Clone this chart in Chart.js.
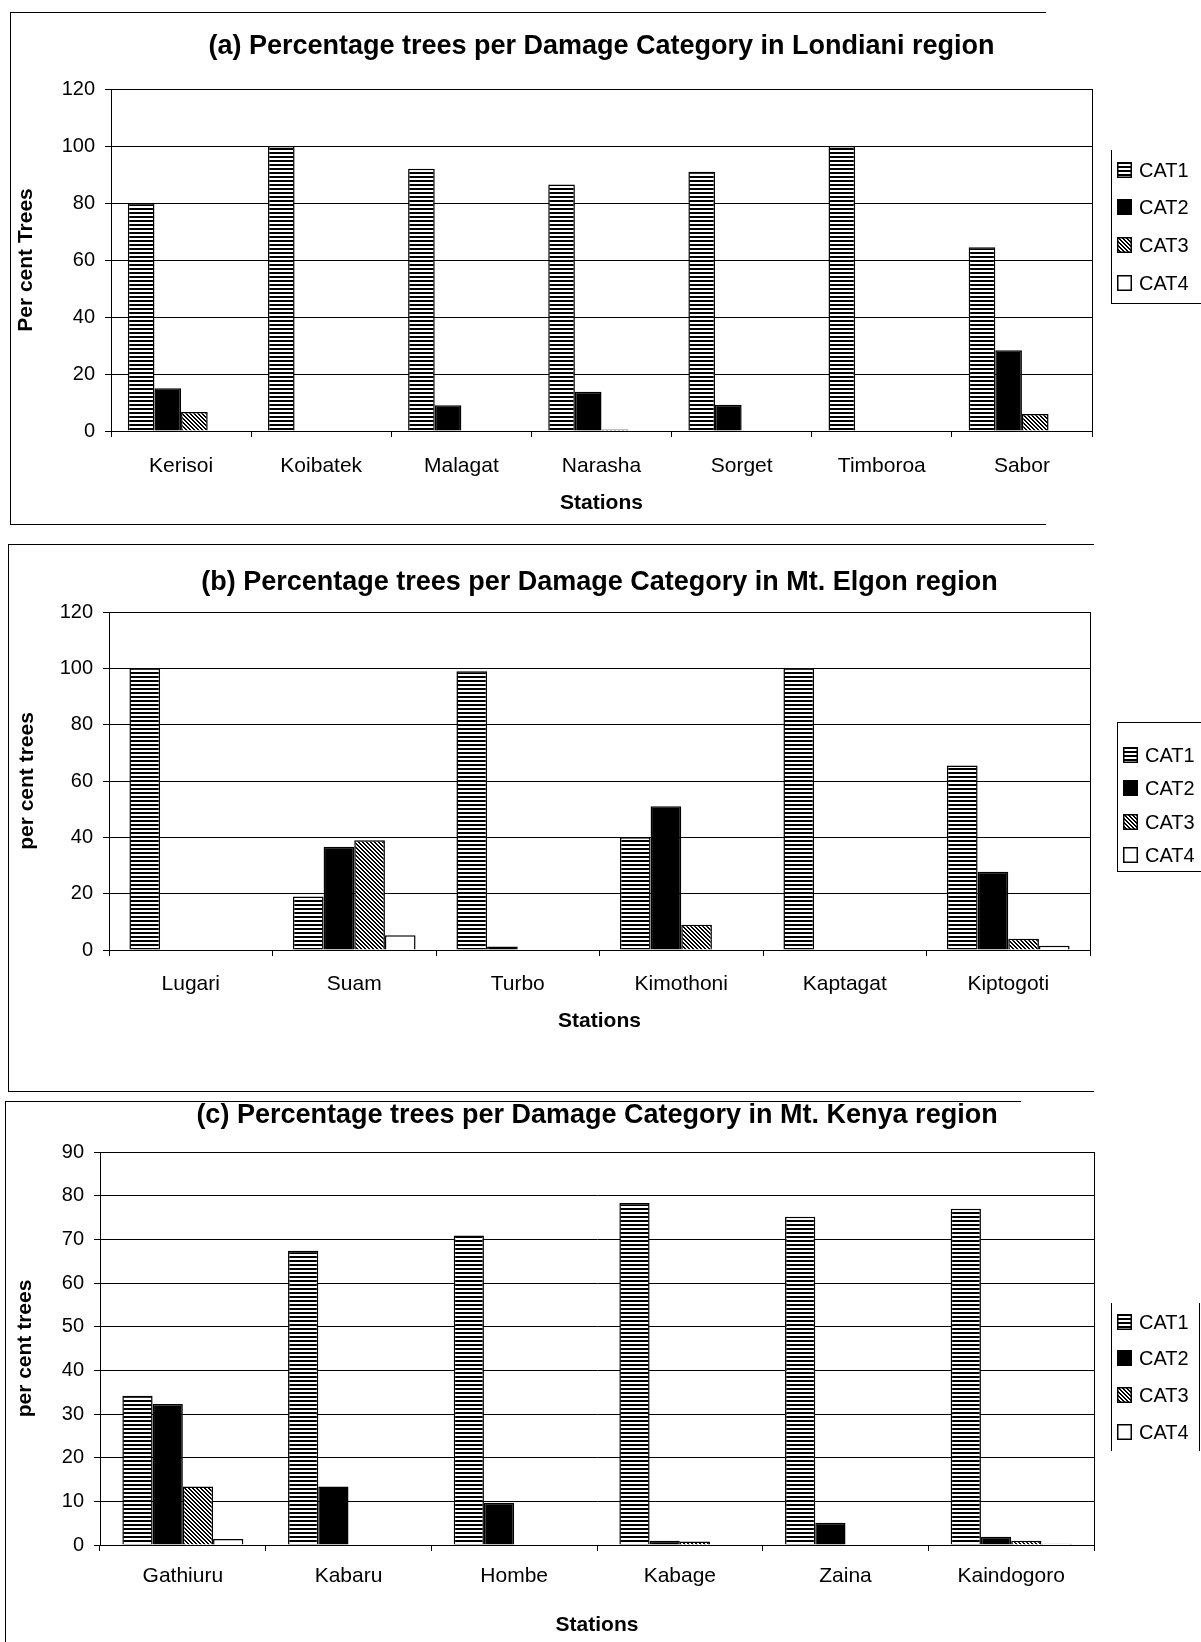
<!DOCTYPE html>
<html lang="en">
<head>
<meta charset="UTF-8">
<title>Percentage trees per Damage Category</title>
<style>
  body { margin: 0; background: #fff; font-family: 'Liberation Sans', Arial, sans-serif; }
  #page { position: relative; width: 1201px; height: 1642px; overflow: hidden; background: #fff; }
  .frame { position: absolute; border: 0 solid #000; box-sizing: border-box; }
  canvas.chart { position: absolute; left: 0; }
  .legend { position: absolute; border: 0 solid #000; box-sizing: border-box; }
  .legend .row { position: absolute; left: 5px; display: flex; align-items: center; font-size: 20px; line-height: 20px; color: #000; }
  .legend .row canvas { margin-right: 7px; }
</style>
<script src="https://cdn.jsdelivr.net/npm/chart.js"></script>
</head>
<body>
<div id="page">
  <div class="frame" style="left:10px; top:12px; width:1036px; height:513px; border-width:1px 0 1px 1px;"></div>
  <div class="frame" style="left:8px; top:544px; width:1086px; height:548px; border-width:1px 0 1px 1px;"></div>
  <div class="frame" style="left:5px; top:1101px; width:1016px; height:545px; border-width:1px 0 0 1px;"></div>

  <canvas class="chart" id="chartA"></canvas>
  <canvas class="chart" id="chartB"></canvas>
  <canvas class="chart" id="chartC"></canvas>

  <div class="legend" id="legendA" style="left:1111px; top:150px; width:90px; height:154px; border-width:0 0 1px 1px;"></div>
  <div class="legend" id="legendB" style="left:1117px; top:722px; width:84px; height:150px; border-width:1px 0 1px 1px;"></div>
  <div class="legend" id="legendC" style="left:1111px; top:1303px; width:89px; height:148px; border-width:0 1px 0 1px;"></div>
</div>

<script>
  const seriesNames = ['CAT1', 'CAT2', 'CAT3', 'CAT4'];

  // (a) Londiani
  const stationsA = ['Kerisoi', 'Koibatek', 'Malagat', 'Narasha', 'Sorget', 'Timboroa', 'Sabor'];
  const cat1A = [80, 100, 92, 86.5, 91, 100, 64.5];
  const cat2A = [15, 0, 9, 13.8, 9.2, 0, 28.3];
  const cat3A = [6.7, 0, 0, 0.5, 0, 0, 6];
  const cat4A = [0, 0, 0, 0, 0, 0, 0];
  const yTicksA = [0, 20, 40, 60, 80, 100, 120];

  // (b) Mt. Elgon
  const stationsB = ['Lugari', 'Suam', 'Turbo', 'Kimothoni', 'Kaptagat', 'Kiptogoti'];
  const cat1B = [100, 19, 99, 40, 100, 65.5];
  const cat2B = [0, 36.7, 1.2, 51, 0, 27.8];
  const cat3B = [0, 39, 0, 9, 0, 4];
  const cat4B = [0, 5.2, 0, 0, 0, 1.5];
  const yTicksB = [0, 20, 40, 60, 80, 100, 120];

  // (c) Mt. Kenya
  const stationsC = ['Gathiuru', 'Kabaru', 'Hombe', 'Kabage', 'Zaina', 'Kaindogoro'];
  const cat1C = [34.2, 67.4, 70.9, 78.3, 75.2, 77];
  const cat2C = [32.3, 13.4, 9.7, 1, 5.1, 1.9];
  const cat3C = [13.4, 0, 0, 0.8, 0, 1];
  const cat4C = [1.4, 0, 0, 0, 0, 0.3];
  const yTicksC = [0, 10, 20, 30, 40, 50, 60, 70, 80, 90];

  const FONT = "'Liberation Sans', Arial, sans-serif";

  // 4x4 tiles for the black & white fills
  function makeTile(kind) {
    const c = document.createElement('canvas');
    c.width = 4; c.height = 4;
    const g = c.getContext('2d');
    g.fillStyle = '#fff';
    g.fillRect(0, 0, 4, 4);
    g.fillStyle = '#000';
    if (kind === 'stripes') {
      g.fillRect(0, 0, 4, 2);
    } else if (kind === 'solid') {
      g.fillRect(0, 0, 4, 4);
    } else if (kind === 'hatch') {
      for (let i = 0; i < 4; i++) {
        g.fillRect(i, i, 1, 1);
        g.fillRect((i + 1) % 4, i, 1, 1);
      }
    }
    return c;
  }
  const tiles = [makeTile('stripes'), makeTile('solid'), makeTile('hatch'), makeTile('white')];

  const plotBorder = {
    id: 'plotBorder',
    afterDraw(chart) {
      const { ctx, chartArea: a } = chart;
      ctx.save();
      ctx.strokeStyle = '#000';
      ctx.lineWidth = 1;
      ctx.strokeRect(Math.round(a.left) + 0.5, Math.round(a.top) + 0.5,
                     Math.round(a.right - a.left), Math.round(a.bottom - a.top));
      ctx.restore();
    }
  };

  function makeChart(id, cfg) {
    const cv = document.getElementById(id);
    cv.width = 1201;
    cv.height = cfg.h;
    cv.style.top = cfg.top + 'px';

    const titleSize = 27, titleLH = titleSize * 1.2;
    const axisSize = 21, axisLH = axisSize * 1.2;
    const tickSize = 20, labelSize = 21, tl = 6;

    return new Chart(cv, {
      type: 'bar',
      data: {
        labels: cfg.labels,
        datasets: seriesNames.map((name, i) => ({
          label: name,
          data: cfg.values[i],
          backgroundColor: ctx => ctx.chart.ctx.createPattern(tiles[i], 'repeat'),
          borderColor: '#000',
          borderWidth: 1.5,
          categoryPercentage: cfg.group,
          barPercentage: 1
        }))
      },
      options: {
        responsive: false,
        animation: false,
        layout: { padding: { top: cfg.titleY - titleLH / 2, right: 1201 - cfg.plotRight, bottom: 0, left: 0 } },
        plugins: {
          legend: { display: false },
          tooltip: { enabled: false },
          title: {
            display: true,
            fullSize: false,
            text: cfg.title,
            color: '#000',
            font: { family: FONT, size: titleSize, weight: 'bold' },
            padding: { top: 0, bottom: cfg.plotTop - cfg.titleY - titleLH / 2 }
          }
        },
        scales: {
          x: {
            grid: { drawOnChartArea: false, color: '#000', tickLength: tl, offset: true },
            border: { color: '#000' },
            ticks: {
              color: '#000',
              font: { family: FONT, size: labelSize },
              padding: cfg.labelY - cfg.plotBottom - tl - labelSize * 0.6,
              maxRotation: 0,
              autoSkip: false
            },
            title: {
              display: true,
              text: 'Stations',
              color: '#000',
              font: { family: FONT, size: axisSize, weight: 'bold' },
              padding: { top: 0, bottom: cfg.h - cfg.stationsY - axisLH / 2 }
            },
            afterFit: s => { s.height = cfg.h - cfg.plotBottom; }
          },
          y: {
            min: 0,
            max: cfg.yTicks[cfg.yTicks.length - 1],
            afterBuildTicks: s => { s.ticks = cfg.yTicks.map(v => ({ value: v })); },
            grid: { color: '#000', tickLength: tl },
            border: { color: '#000' },
            ticks: { color: '#000', font: { family: FONT, size: tickSize }, padding: 10 },
            title: {
              display: true,
              text: cfg.yTitle,
              color: '#000',
              font: { family: FONT, size: axisSize, weight: 'bold' },
              padding: { top: cfg.yTitleX - axisLH / 2, bottom: 0 }
            },
            afterFit: s => { s.width = cfg.plotLeft; }
          }
        }
      },
      plugins: [plotBorder]
    });
  }

  function makeLegend(id, rowsY) {
    const box = document.getElementById(id);
    seriesNames.forEach((name, i) => {
      const row = document.createElement('div');
      row.className = 'row';
      row.style.top = (rowsY[i] - 10) + 'px';
      const sw = document.createElement('canvas');
      sw.width = 15; sw.height = 16;
      const g = sw.getContext('2d');
      g.fillStyle = g.createPattern(tiles[i], 'repeat');
      g.fillRect(0, 0, 15, 16);
      g.strokeStyle = '#000';
      g.lineWidth = 1.5;
      g.strokeRect(0.75, 0.75, 13.5, 14.5);
      row.appendChild(sw);
      row.appendChild(document.createTextNode(name));
      box.appendChild(row);
    });
  }

  makeChart('chartA', {
    top: 0, h: 540,
    title: '(a) Percentage trees per Damage Category in Londiani region',
    yTitle: 'Per cent Trees',
    labels: stationsA,
    values: [cat1A, cat2A, cat3A, cat4A],
    yTicks: yTicksA,
    group: 0.76,
    plotLeft: 111, plotRight: 1092, plotTop: 89, plotBottom: 431,
    titleY: 47, labelY: 466, stationsY: 503, yTitleX: 26
  });

  makeChart('chartB', {
    top: 540, h: 556,
    title: '(b) Percentage trees per Damage Category in Mt. Elgon region',
    yTitle: 'per cent trees',
    labels: stationsB,
    values: [cat1B, cat2B, cat3B, cat4B],
    yTicks: yTicksB,
    group: 0.75,
    plotLeft: 109, plotRight: 1090, plotTop: 72, plotBottom: 410,
    titleY: 43, labelY: 444, stationsY: 481, yTitleX: 27
  });

  makeChart('chartC', {
    top: 1096, h: 546,
    title: '(c) Percentage trees per Damage Category in Mt. Kenya region',
    yTitle: 'per cent trees',
    labels: stationsC,
    values: [cat1C, cat2C, cat3C, cat4C],
    yTicks: yTicksC,
    group: 0.73,
    plotLeft: 100, plotRight: 1094, plotTop: 56, plotBottom: 449,
    titleY: 20, labelY: 480, stationsY: 529, yTitleX: 25
  });

  makeLegend('legendA', [20, 57, 95, 133]);
  makeLegend('legendB', [32, 65, 99, 132]);
  makeLegend('legendC', [19, 55, 92, 129]);
</script>
</body>
</html>
